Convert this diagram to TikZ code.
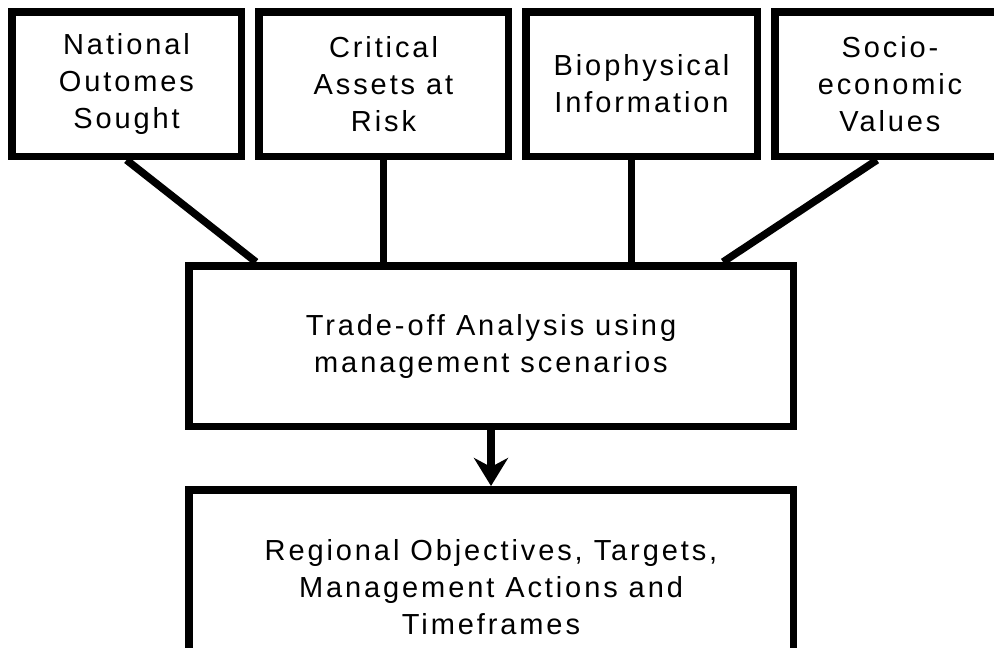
\documentclass[tikz,border=0pt]{standalone}
\usepackage{fontspec}
\setmainfont{Liberation Sans}[LetterSpace=10]
\usetikzlibrary{arrows.meta}
\begin{document}
\begin{tikzpicture}[x=1pt,y=-1pt,
  box/.style={draw, line width=7.5pt, align=center, inner sep=0pt,
    font=\fontsize{29}{37}\selectfont},
  link/.style={line width=7.5pt}]
\useasboundingbox (0,0) rectangle (994,648);
\clip (0,0) rectangle (994,648);
\node[box, minimum width=229.5pt, minimum height=144.5pt] (nat) at (126.5,84) {National\\Outomes\\Sought};
\node[box, minimum width=249.5pt, minimum height=144.5pt] (crit) at (383.5,84) {Critical\\Assets at\\Risk};
\node[box, minimum width=231.5pt, minimum height=144.5pt] (bio) at (641.5,84) {Biophysical\\Information};
\node[box, minimum width=230.5pt, minimum height=144.5pt] (soc) at (890,84) {Socio-\\economic\\Values};
\node[box, minimum width=604.5pt, minimum height=160.5pt] (mid) at (491,346) {Trade-off Analysis using\\management scenarios};
\node[box, minimum width=604.5pt, minimum height=194.5pt] (bot) at (491,587) {Regional Objectives, Targets,\\Management Actions and\\Timeframes};
\draw[link] (nat.south) -- ([xshift=-235pt]mid.north);
\draw[link] (crit.south) -- (crit.south |- mid.north);
\draw[link] ([xshift=-10pt]bio.south) -- ([xshift=-10pt]bio.south |- mid.north);
\draw[link] ([xshift=-13pt]soc.south) -- ([xshift=232pt]mid.north);
\draw[link, -{Stealth[length=28pt,width=34pt,inset=9pt]}] (mid.south) -- (bot.north);
\end{tikzpicture}
\end{document}
